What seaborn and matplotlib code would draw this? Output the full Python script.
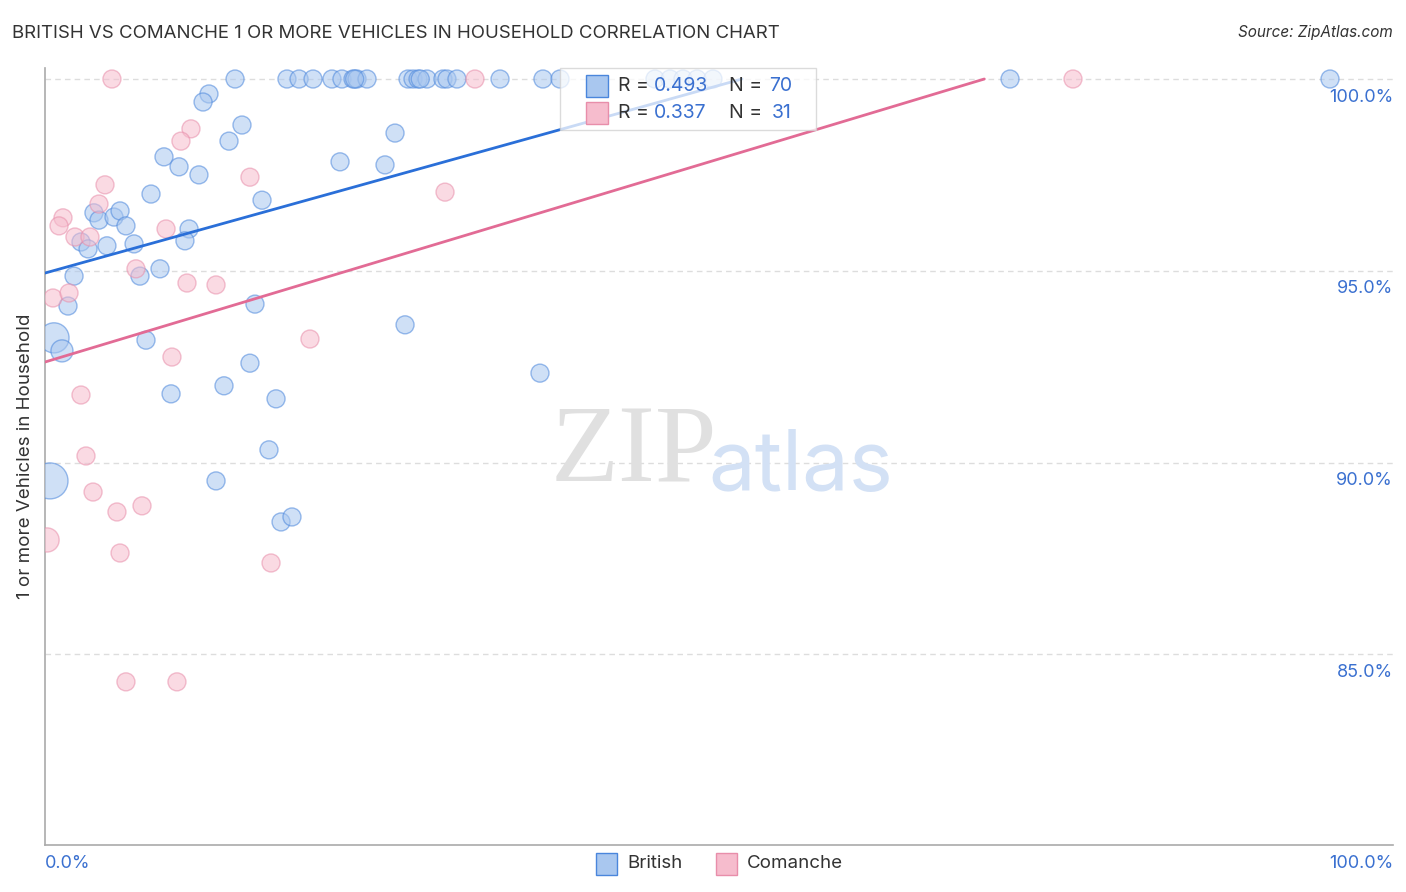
import numpy as np
import pandas as pd
import matplotlib
matplotlib.use("Agg")
import matplotlib.pyplot as plt
import seaborn as sns
from matplotlib.patches import Rectangle

# ---------------- data ----------------
british_x = [12.76, 12.30, 15.33, 14.32, 27.24, 22.96, 26.46, 9.26, 10.43, 11.98,
             8.25, 16.89, 3.81, 4.20, 5.37, 5.84, 6.30, 11.21, 10.89, 6.93,
             4.82, 2.80, 3.35, 8.95, 7.39, 2.26, 1.79, 16.34, 28.02, 0.70,
             1.32, 7.86, 15.95, 9.81, 13.93, 17.98, 17.43, 0.39, 13.31, 18.37,
             19.22, 38.52,
             14.79, 18.83, 19.77, 20.86, 22.33, 23.11, 23.97, 24.28, 25.06, 28.25,
             28.64, 29.03, 29.73, 30.97, 31.28, 32.06, 35.41, 38.75, 40.08, 47.47,
             48.64, 49.65, 50.74, 51.98, 75.10, 100.0, 24.10, 29.20]
british_y = [99.61, 99.40, 98.80, 98.38, 98.59, 97.84, 97.76, 97.97, 97.71, 97.50,
             97.00, 96.84, 96.51, 96.32, 96.40, 96.56, 96.17, 96.09, 95.78, 95.70,
             95.65, 95.75, 95.57, 95.05, 94.86, 94.86, 94.08, 94.13, 93.59, 93.25,
             92.91, 93.19, 92.59, 91.79, 92.00, 91.66, 90.33, 89.52, 89.52, 88.45,
             88.58, 92.33,
             100, 100, 100, 100, 100, 100, 100, 100, 100, 100,
             100, 100, 100, 100, 100, 100, 100, 100, 100, 100,
             100, 100, 100, 100, 100, 100, 100, 100]
british_w = [1] * 29 + [2.8, 1.5] + [1] * 6 + [4.0] + [1] * 32

comanche_x = [5.21, 11.36, 10.58, 15.95, 4.67, 31.13, 1.40, 1.09, 4.20, 2.33,
              3.50, 9.42, 7.08, 11.05, 13.31, 0.62, 1.87, 20.62, 9.88, 2.80,
              3.19, 3.74, 5.60, 7.55, 0.16, 5.84, 17.59, 6.30, 10.27, 33.46, 80.0]
comanche_y = [100, 98.70, 98.38, 97.44, 97.24, 97.05, 96.38, 96.17, 96.74, 95.88,
              95.88, 96.09, 95.05, 94.68, 94.63, 94.29, 94.42, 93.22, 92.75, 91.76,
              90.17, 89.23, 88.71, 88.87, 87.98, 87.64, 87.38, 84.28, 84.28, 100, 100]
comanche_w = [1] * 24 + [1.8] + [1] * 6

british_trend_x = [0.0, 54.24]
british_trend_y = [94.94, 100.0]
comanche_trend_x = [0.0, 73.1]
comanche_trend_y = [92.62, 100.0]

legend_rows = [("British", "0.493", "70"), ("Comanche", "0.337", "31")]
y_ticks = [100.0, 95.0, 90.0, 85.0]
y_tick_labels = ["100.0%", "95.0%", "90.0%", "85.0%"]
x_tick_labels = ["0.0%", "100.0%"]

# ---------------- style ----------------
sns.set_style("white")
plt.rcParams["font.family"] = ["Inter", "DejaVu Sans"]

BLUE_FILL = "#a9c7ef"
BLUE_EDGE = "#4a86dc"
BLUE_LINE = "#2a6fd8"
PINK_FILL = "#f6bccd"
PINK_EDGE = "#e88eaa"
PINK_LINE = "#e26b95"
LABEL_BLUE = "#3a70d0"
TXT = "#333333"

W, H = 1406, 892
fig = plt.figure(figsize=(W / 100, H / 100), dpi=100)
ax = fig.add_axes([45 / W, 1 - 845 / H, (1393 - 45) / W, (845 - 68) / H])

px = 12.85  # pixels per x unit
x_max = (1393 - 45) / px
ax.set_xlim(0, x_max)
ax.set_ylim(100 - (845 - 79) / 38.35, 100 + (79 - 68) / 38.35)

bdf = pd.DataFrame({"x": british_x, "y": british_y, "w": british_w})
cdf = pd.DataFrame({"x": comanche_x, "y": comanche_y, "w": comanche_w})
base_s = 168

sns.scatterplot(data=bdf, x="x", y="y", ax=ax, s=bdf["w"] * base_s,
                color=BLUE_FILL, edgecolor=BLUE_EDGE, linewidth=1.0, alpha=0.55,
                zorder=3, legend=False)
sns.scatterplot(data=cdf, x="x", y="y", ax=ax, s=cdf["w"] * base_s,
                color=PINK_FILL, edgecolor=PINK_EDGE, linewidth=1.0, alpha=0.55,
                zorder=3, legend=False)

sns.lineplot(x=british_trend_x, y=british_trend_y, ax=ax, color=BLUE_LINE,
             linewidth=2.0, zorder=4)
sns.lineplot(x=comanche_trend_x, y=comanche_trend_y, ax=ax, color=PINK_LINE,
             linewidth=2.0, zorder=4)

# grid
for yt in y_ticks:
    ax.axhline(yt, color="#dddddd", linewidth=1.0, linestyle=(0, (4, 3)), zorder=1)

# spines & ticks
for s in ["top", "right"]:
    ax.spines[s].set_visible(False)
ax.spines["left"].set_color("#aaaaaa")
ax.spines["bottom"].set_color("#aaaaaa")
ax.spines["left"].set_linewidth(1.2)
ax.spines["bottom"].set_linewidth(1.2)
ax.set_xticks(np.arange(0, 101, 10))
ax.set_xticklabels([])
ax.set_yticks([])
ax.tick_params(axis="x", direction="in", length=19, width=1.2, color="#cccccc")
ax.set_xlabel("")
ax.set_ylabel("1 or more Vehicles in Household", fontsize=13.5, color=TXT, labelpad=8)

# y tick labels (right side, below grid lines)
tr = matplotlib.transforms.blended_transform_factory(ax.transAxes, ax.transData)
for yt, lab in zip(y_ticks, y_tick_labels):
    ax.text(1.0, yt - 18 / 38.35, lab, transform=tr, ha="right", va="center",
            fontsize=13, color=LABEL_BLUE)

# x tick labels
fig.text(45 / W, 1 - 863 / H, x_tick_labels[0], ha="left", va="center",
         fontsize=13, color=LABEL_BLUE)
fig.text(1393 / W, 1 - 863 / H, x_tick_labels[1], ha="right", va="center",
         fontsize=13, color=LABEL_BLUE)

# title & source
fig.text(12 / W, 1 - 33 / H,
         "BRITISH VS COMANCHE 1 OR MORE VEHICLES IN HOUSEHOLD CORRELATION CHART",
         ha="left", va="center", fontsize=13.4, color=TXT)
fig.text(1393 / W, 1 - 33 / H, "Source: ZipAtlas.com", ha="right", va="center",
         fontsize=11, color=TXT, style="italic")

# watermark
fig.text(634 / W, 1 - 455 / H, "ZIP", ha="center", va="center", fontsize=80,
         color="#e0e0e0", family=["Liberation Serif", "DejaVu Serif"], zorder=0)
fig.text(801 / W, 1 - 490 / H, "atlas", ha="center", va="baseline", fontsize=60,
         color="#d3e1f5", zorder=0)

# top legend box
fig.add_artist(Rectangle((560 / W, 1 - 130 / H), (816 - 560) / W, (130 - 68) / H,
                         transform=fig.transFigure, facecolor="white", alpha=0.75,
                         edgecolor="#d0d0d0", linewidth=1.0, zorder=5))
fills = [(BLUE_FILL, BLUE_EDGE), (PINK_FILL, PINK_EDGE)]
for i, ((name, r, n), (fc, ec)) in enumerate(zip(legend_rows, fills)):
    yc = [86, 113][i]
    fig.add_artist(Rectangle((586 / W, 1 - (yc + 11) / H), 22 / W, 22 / H,
                             transform=fig.transFigure, facecolor=fc, edgecolor=ec,
                             linewidth=1.0, zorder=6))
    fig.text(618 / W, 1 - yc / H, "R = ", ha="left", va="center", fontsize=14,
             color=TXT, zorder=7)
    fig.text(654 / W, 1 - yc / H, r, ha="left", va="center", fontsize=14,
             color=LABEL_BLUE, zorder=7)
    fig.text(729 / W, 1 - yc / H, "N = ", ha="left", va="center", fontsize=14,
             color=TXT, zorder=7)
    fig.text(792 / W, 1 - yc / H, n, ha="right", va="center", fontsize=14,
             color=LABEL_BLUE, zorder=7)

# bottom legend
for (name, _, _), (fc, ec), xp in zip(legend_rows, fills, [596, 716]):
    fig.add_artist(Rectangle((xp / W, 1 - 875 / H), 21 / W, 22 / H,
                             transform=fig.transFigure, facecolor=fc, edgecolor=ec,
                             linewidth=1.0))
    fig.text((xp + 31) / W, 1 - 864 / H, name, ha="left", va="center",
             fontsize=13.5, color=TXT)

fig.savefig("out.png", dpi=100)
